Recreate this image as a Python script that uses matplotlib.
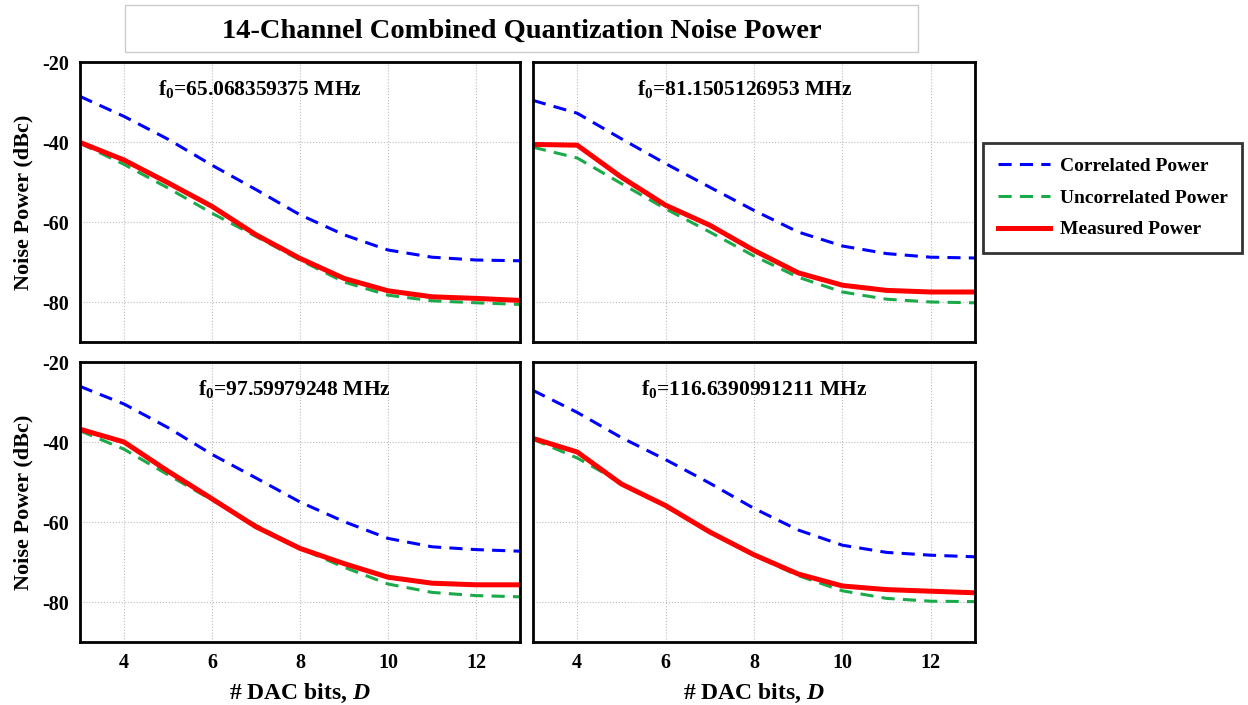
import numpy as np
import matplotlib
matplotlib.use('Agg')
import matplotlib.pyplot as plt
from matplotlib.patches import Rectangle

plt.rcParams['font.family'] = 'Liberation Serif'
plt.rcParams['font.weight'] = 'bold'
plt.rcParams['axes.unicode_minus'] = False
plt.rcParams['mathtext.fontset'] = 'custom'
plt.rcParams['mathtext.rm'] = 'Liberation Serif:bold'
plt.rcParams['mathtext.it'] = 'Liberation Serif:italic:bold'
plt.rcParams['mathtext.bf'] = 'Liberation Serif:bold'

# DAC bits
bits = [3, 4, 5, 6, 7, 8, 9, 10, 11, 12, 13]

freq_labels = ['65.068359375', '81.1505126953', '97.59979248', '116.6390991211']

# correlated / uncorrelated / measured power (dBc), one list per panel
correlated = [
    [-28.6, -33.6, -39.3, -45.8, -51.9, -58.2, -63.2, -67.0, -68.8, -69.5, -69.7],
    [-29.6, -32.8, -39.2, -45.4, -51.3, -57.1, -62.5, -66.0, -67.9, -68.8, -69.0],
    [-26.1, -30.5, -36.4, -43.1, -49.0, -55.0, -59.9, -64.1, -66.2, -66.9, -67.3],
    [-27.1, -32.6, -38.9, -44.4, -50.3, -56.6, -62.0, -65.8, -67.6, -68.3, -68.7],
]
uncorrelated = [
    [-40.3, -45.6, -51.5, -57.8, -63.6, -69.5, -75.0, -78.3, -79.7, -80.2, -80.6],
    [-41.3, -44.0, -50.4, -56.7, -62.5, -68.5, -73.8, -77.5, -79.3, -80.0, -80.2],
    [-37.2, -41.8, -48.2, -54.5, -60.8, -66.6, -71.3, -75.5, -77.6, -78.4, -78.7],
    [-39.3, -44.0, -50.2, -56.1, -62.5, -68.3, -73.4, -77.2, -79.1, -79.8, -79.9],
]
measured = [
    [-40.1, -44.5, -50.2, -56.1, -63.2, -69.1, -74.1, -77.2, -78.7, -79.1, -79.6],
    [-40.6, -40.8, -48.8, -55.8, -60.8, -67.1, -72.7, -75.8, -77.1, -77.5, -77.5],
    [-36.8, -40.0, -47.3, -54.2, -61.2, -66.6, -70.4, -73.8, -75.3, -75.7, -75.7],
    [-39.1, -42.5, -50.5, -55.9, -62.5, -68.2, -73.0, -76.0, -76.9, -77.3, -77.7],
]

fig = plt.figure(figsize=(12.48, 7.05), dpi=100)

W, H = 1248, 705
boxes = [(80, 62, 520, 342), (533, 62, 975, 342), (80, 362, 520, 642), (533, 362, 975, 642)]
label_x = [0.41, 0.48, 0.487, 0.50]

for i, (x0, y0, x1, y1) in enumerate(boxes):
    ax = fig.add_axes([x0 / W, 1 - y1 / H, (x1 - x0) / W, (y1 - y0) / H])
    ax.plot(bits, correlated[i], color='#0000ff', lw=2.2, ls=(0, (4.3, 2.7)), label='Correlated Power')
    ax.plot(bits, uncorrelated[i], color='#1aaa4a', lw=2.2, ls=(0, (4.3, 2.7)), label='Uncorrelated Power')
    ax.plot(bits, measured[i], color='#ff0000', lw=3.6, label='Measured Power')
    ax.set_xlim(3, 13)
    ax.set_ylim(-90, -20)
    ax.set_xticks([4, 6, 8, 10, 12])
    ax.set_yticks([-20, -40, -60, -80])
    ax.grid(True, color='#bbbbbb', ls=':', lw=0.8)
    ax.tick_params(length=0, labelsize=14.5, pad=8)
    for s in ax.spines.values():
        s.set_linewidth(2)
    if i < 2:
        ax.set_xticklabels([])
    else:
        ax.set_xlabel(r'# DAC bits, $D$', fontsize=17, fontweight='bold', labelpad=6)
    if i % 2 == 1:
        ax.set_yticklabels([])
    else:
        ax.set_ylabel('Noise Power (dBc)', fontsize=16, fontweight='bold', labelpad=6)
    ax.text(label_x[i], 0.905, r'f$_\mathrm{0}$=' + freq_labels[i] + ' MHz',
            transform=ax.transAxes, ha='center', va='center', fontsize=15.5, fontweight='bold')
    if i == 0:
        handles, labels = ax.get_legend_handles_labels()

fig.legend(handles, labels, loc='upper left', bbox_to_anchor=(983 / W, 1 - 143 / H),
           fontsize=14, frameon=True, fancybox=False, edgecolor='black', handlelength=2.7,
           handletextpad=0.5, labelspacing=0.72, borderpad=0.75, borderaxespad=0)
leg = fig.legends[0]
leg.get_frame().set_linewidth(2)
for t in leg.get_texts():
    t.set_fontweight('bold')

# title box
fig.patches.append(Rectangle((125 / W, 1 - 52 / H), 793 / W, 47 / H, transform=fig.transFigure,
                             fill=False, edgecolor='#cccccc', lw=1))
fig.text(522 / W, 1 - 31 / H, '14-Channel Combined Quantization Noise Power',
         ha='center', va='center', fontsize=20.5, fontweight='bold')

fig.savefig('out.png', dpi=100)
